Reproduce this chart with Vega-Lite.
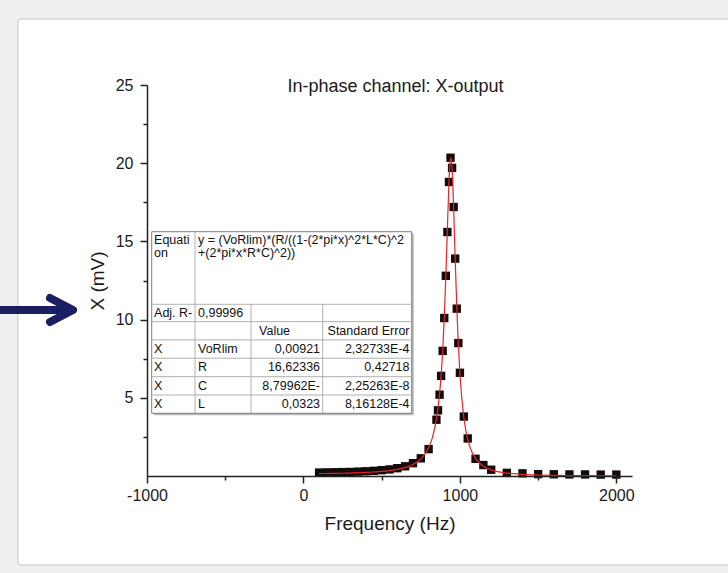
{
  "$schema": "https://vega.github.io/schema/vega-lite/v6.json",
  "autosize": {"type": "none"},
  "width": 485,
  "height": 391,
  "padding": {"left": 147, "top": 85, "right": 96, "bottom": 97},
  "background": "#efefef",
  "config": {
    "font": "Liberation Sans",
    "view": {"stroke": null}
  },
  "title": {
    "text": "In-phase channel: X-output",
    "fontSize": 18,
    "fontWeight": "normal",
    "color": "#1a1a1a",
    "anchor": "middle",
    "frame": "group",
    "dx": 6,
    "offset": -92,
    "baseline": "alphabetic",
    "zindex": 1
  },
  "datasets": {
    "card": [{"x": -1825, "x2": 2790, "y": 29.22, "y2": -5.69}],
    "arrow": [
      {"seg": "shaft", "i": 0, "x": -2004, "y": 10.61},
      {"seg": "shaft", "i": 1, "x": -1480, "y": 10.61},
      {"seg": "head", "i": 0, "x": -1620, "y": 11.38},
      {"seg": "head", "i": 1, "x": -1473, "y": 10.61},
      {"seg": "head", "i": 2, "x": -1620, "y": 9.85}
    ],
    "boxes": [
      {"part": "shadow", "x": -957, "x2": 705, "y": 3.88, "y2": 15.49},
      {"part": "table", "x": -970, "x2": 692, "y": 4.01, "y2": 15.62}
    ],
    "lines": [
      {"x": -970, "x2": 692, "y": 10.98, "y2": 10.98},
      {"x": -970, "x2": 692, "y": 9.87, "y2": 9.87},
      {"x": -970, "x2": 692, "y": 8.70, "y2": 8.70},
      {"x": -970, "x2": 692, "y": 7.53, "y2": 7.53},
      {"x": -970, "x2": 692, "y": 6.35, "y2": 6.35},
      {"x": -970, "x2": 692, "y": 5.18, "y2": 5.18},
      {"x": -693, "x2": -693, "y": 4.01, "y2": 15.62},
      {"x": -335, "x2": -335, "y": 4.01, "y2": 10.98},
      {"x": 123, "x2": 123, "y": 4.01, "y2": 10.98}
    ],
    "cells": [
      {"side": "left", "x": -955, "y": 15.09, "text": "Equati"},
      {"side": "left", "x": -955, "y": 14.24, "text": "on"},
      {"side": "left", "x": -674, "y": 15.09, "text": "y = (VoRlim)*(R/((1-(2*pi*x)^2*L*C)^2"},
      {"side": "left", "x": -674, "y": 14.24, "text": "+(2*pi*x*R*C)^2))"},
      {"side": "left", "x": -955, "y": 10.42, "text": "Adj. R-"},
      {"side": "left", "x": -674, "y": 10.42, "text": "0,99996"},
      {"side": "left", "x": -284, "y": 9.28, "text": "Value"},
      {"side": "right", "x": 678, "y": 9.28, "text": "Standard Error"},
      {"side": "left", "x": -955, "y": 8.11, "text": "X"},
      {"side": "left", "x": -674, "y": 8.11, "text": "VoRlim"},
      {"side": "right", "x": 106, "y": 8.11, "text": "0,00921"},
      {"side": "right", "x": 678, "y": 8.11, "text": "2,32733E-4"},
      {"side": "left", "x": -955, "y": 6.94, "text": "X"},
      {"side": "left", "x": -674, "y": 6.94, "text": "R"},
      {"side": "right", "x": 106, "y": 6.94, "text": "16,62336"},
      {"side": "right", "x": 678, "y": 6.94, "text": "0,42718"},
      {"side": "left", "x": -955, "y": 5.77, "text": "X"},
      {"side": "left", "x": -674, "y": 5.77, "text": "C"},
      {"side": "right", "x": 106, "y": 5.77, "text": "8,79962E-"},
      {"side": "right", "x": 678, "y": 5.77, "text": "2,25263E-8"},
      {"side": "left", "x": -955, "y": 4.59, "text": "X"},
      {"side": "left", "x": -674, "y": 4.59, "text": "L"},
      {"side": "right", "x": 106, "y": 4.59, "text": "0,0323"},
      {"side": "right", "x": 678, "y": 4.59, "text": "8,16128E-4"}
    ],
    "points": [
      {"x": 100, "y": 0.22}, {"x": 150, "y": 0.23}, {"x": 200, "y": 0.24},
      {"x": 250, "y": 0.25}, {"x": 300, "y": 0.26}, {"x": 350, "y": 0.28},
      {"x": 400, "y": 0.3}, {"x": 450, "y": 0.33}, {"x": 500, "y": 0.37},
      {"x": 550, "y": 0.42}, {"x": 600, "y": 0.5}, {"x": 650, "y": 0.62},
      {"x": 700, "y": 0.82}, {"x": 750, "y": 1.13}, {"x": 800, "y": 1.72},
      {"x": 850, "y": 3.6}, {"x": 860, "y": 4.2}, {"x": 870, "y": 5.2},
      {"x": 880, "y": 6.4}, {"x": 890, "y": 8.0}, {"x": 900, "y": 10.1},
      {"x": 910, "y": 12.8}, {"x": 920, "y": 15.6}, {"x": 930, "y": 18.8},
      {"x": 940, "y": 20.35}, {"x": 950, "y": 19.7}, {"x": 960, "y": 17.2},
      {"x": 970, "y": 13.9}, {"x": 980, "y": 10.7}, {"x": 990, "y": 8.5},
      {"x": 1000, "y": 6.6}, {"x": 1025, "y": 3.8}, {"x": 1050, "y": 2.4},
      {"x": 1100, "y": 1.1}, {"x": 1150, "y": 0.7}, {"x": 1200, "y": 0.4},
      {"x": 1300, "y": 0.2}, {"x": 1400, "y": 0.17}, {"x": 1500, "y": 0.12},
      {"x": 1600, "y": 0.11}, {"x": 1700, "y": 0.1}, {"x": 1800, "y": 0.1},
      {"x": 1900, "y": 0.09}, {"x": 2000, "y": 0.09}
    ],
    "fit": [
      {"x": 100, "y": 0.157}, {"x": 150, "y": 0.161}, {"x": 200, "y": 0.168},
      {"x": 250, "y": 0.177}, {"x": 300, "y": 0.189}, {"x": 350, "y": 0.206},
      {"x": 400, "y": 0.227}, {"x": 450, "y": 0.256}, {"x": 500, "y": 0.295},
      {"x": 550, "y": 0.349}, {"x": 600, "y": 0.427}, {"x": 650, "y": 0.547},
      {"x": 700, "y": 0.740}, {"x": 750, "y": 1.088}, {"x": 800, "y": 1.805},
      {"x": 825, "y": 2.487}, {"x": 850, "y": 3.653}, {"x": 860, "y": 4.354},
      {"x": 870, "y": 5.264}, {"x": 875, "y": 5.821}, {"x": 880, "y": 6.459},
      {"x": 890, "y": 8.040}, {"x": 900, "y": 10.117}, {"x": 910, "y": 12.758},
      {"x": 920, "y": 15.834}, {"x": 930, "y": 18.730}, {"x": 935, "y": 19.767},
      {"x": 940, "y": 20.316}, {"x": 944, "y": 20.337}, {"x": 948, "y": 19.977},
      {"x": 953, "y": 19.045}, {"x": 960, "y": 17.099}, {"x": 970, "y": 13.835},
      {"x": 980, "y": 10.817}, {"x": 990, "y": 8.390}, {"x": 1000, "y": 6.551},
      {"x": 1025, "y": 3.743}, {"x": 1050, "y": 2.335}, {"x": 1075, "y": 1.565},
      {"x": 1100, "y": 1.107}, {"x": 1150, "y": 0.624}, {"x": 1200, "y": 0.391},
      {"x": 1250, "y": 0.264}, {"x": 1300, "y": 0.187}, {"x": 1400, "y": 0.105},
      {"x": 1500, "y": 0.065}, {"x": 1600, "y": 0.043}, {"x": 1700, "y": 0.030},
      {"x": 1800, "y": 0.022}, {"x": 1900, "y": 0.016}, {"x": 2000, "y": 0.013}
    ]
  },
  "encoding": {
    "x": {
      "field": "x",
      "type": "quantitative",
      "scale": {"domain": [-1000, 2100], "nice": false, "zero": false},
      "axis": {
        "zindex": 1,
        "title": "Frequency (Hz)",
        "values": [-1000, -500, 0, 500, 1000, 1500, 2000],
        "labelExpr": "datum.value % 1000 === 0 ? '' + datum.value : ''",
        "grid": false,
        "domainColor": "#222222",
        "domainWidth": 1.5,
        "tickColor": "#222222",
        "tickWidth": 1.5,
        "tickSize": {"condition": {"test": "datum.value % 1000 === 0", "value": 7}, "value": 4},
        "labelFontSize": 16,
        "labelColor": "#1a1a1a",
        "labelPadding": 4,
        "labelFlush": false,
        "labelOverlap": false,
        "titleFontSize": 19,
        "titleFontWeight": "normal",
        "titleColor": "#1a1a1a",
        "titlePadding": 11
      }
    },
    "y": {
      "field": "y",
      "type": "quantitative",
      "scale": {"domain": [0, 25], "nice": false},
      "axis": {
        "zindex": 1,
        "title": "X (mV)",
        "values": [2.5, 5, 7.5, 10, 12.5, 15, 17.5, 20, 22.5, 25],
        "labelExpr": "datum.value % 5 === 0 ? datum.label : ''",
        "grid": false,
        "domainColor": "#222222",
        "domainWidth": 1.5,
        "tickColor": "#222222",
        "tickWidth": 1.5,
        "tickSize": {"condition": {"test": "datum.value % 5 === 0", "value": 7}, "value": 4},
        "labelFontSize": 16,
        "labelColor": "#1a1a1a",
        "labelPadding": 7,
        "labelFlush": false,
        "labelOverlap": false,
        "titleFontSize": 19,
        "titleFontWeight": "normal",
        "titleColor": "#1a1a1a",
        "titlePadding": 8
      }
    }
  },
  "layer": [
    {
      "data": {"name": "card"},
      "mark": {"type": "rect", "fill": "#ffffff", "stroke": "#d4d4d4", "strokeWidth": 1.5, "cornerRadius": 3},
      "encoding": {"x2": {"field": "x2"}, "y2": {"field": "y2"}}
    },
    {
      "data": {"name": "arrow"},
      "mark": {"type": "line", "color": "#1b1e63", "strokeWidth": 8, "strokeCap": "round", "strokeJoin": "round"},
      "encoding": {
        "detail": {"field": "seg", "type": "nominal"},
        "order": {"field": "i", "type": "quantitative"}
      }
    },
    {
      "data": {"name": "boxes"},
      "transform": [{"filter": "datum.part === 'shadow'"}],
      "mark": {"type": "rect", "fill": "#a8a8a8", "opacity": 0.8},
      "encoding": {"x2": {"field": "x2"}, "y2": {"field": "y2"}}
    },
    {
      "data": {"name": "boxes"},
      "transform": [{"filter": "datum.part === 'table'"}],
      "mark": {"type": "rect", "fill": "#ffffff", "stroke": "#7d7d7d", "strokeWidth": 1},
      "encoding": {"x2": {"field": "x2"}, "y2": {"field": "y2"}}
    },
    {
      "data": {"name": "lines"},
      "mark": {"type": "rule", "color": "#b0b0b0", "strokeWidth": 1},
      "encoding": {"x2": {"field": "x2"}, "y2": {"field": "y2"}}
    },
    {
      "data": {"name": "cells"},
      "transform": [{"filter": "datum.side === 'left'"}],
      "mark": {"type": "text", "align": "left", "baseline": "middle", "fontSize": 12.5, "color": "#111111"},
      "encoding": {"text": {"field": "text"}}
    },
    {
      "data": {"name": "cells"},
      "transform": [{"filter": "datum.side === 'right'"}],
      "mark": {"type": "text", "align": "right", "baseline": "middle", "fontSize": 12.5, "color": "#111111"},
      "encoding": {"text": {"field": "text"}}
    },
    {
      "data": {"name": "points"},
      "mark": {"type": "point", "shape": "square", "filled": true, "color": "#140a0a", "size": 70, "opacity": 1}
    },
    {
      "data": {"name": "fit"},
      "mark": {"type": "line", "color": "#e3262a", "strokeWidth": 1.2, "interpolate": "monotone"}
    }
  ]
}
